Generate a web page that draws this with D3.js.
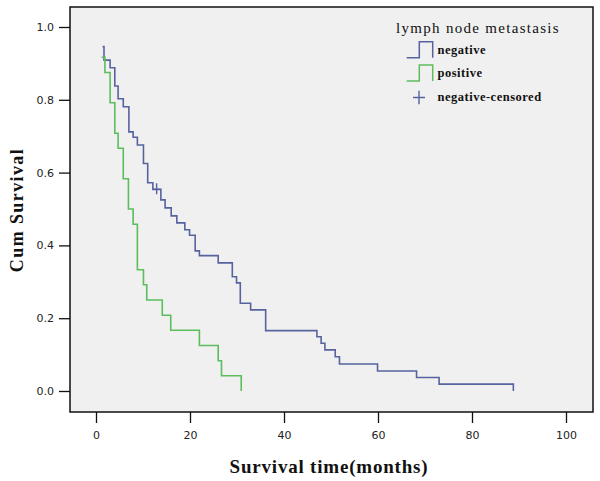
<!DOCTYPE html>
<html><head><meta charset="utf-8">
<script src="https://cdn.jsdelivr.net/npm/d3@7"></script>
<style>body{margin:0;background:#fff}svg{display:block}</style>
</head><body>
<svg id="chart" width="600" height="481"></svg>
<script>
const negTimes = [1.4, 1.7, 3.0, 4.0, 4.7, 5.8, 7.0, 7.9, 8.8, 10.1, 11.0, 12.1, 13.8, 14.7, 16.0, 17.2, 18.9, 19.9, 21.1, 22.0, 26.0, 29.0, 29.9, 30.7, 32.9, 36.1, 47.0, 47.9, 48.7, 50.9, 51.8, 59.9, 68.2, 73.0, 88.8];
const negSurv = [0.946, 0.909, 0.888, 0.838, 0.803, 0.781, 0.712, 0.697, 0.676, 0.625, 0.572, 0.554, 0.525, 0.503, 0.481, 0.462, 0.443, 0.428, 0.385, 0.372, 0.352, 0.314, 0.297, 0.241, 0.223, 0.166, 0.149, 0.131, 0.113, 0.094, 0.074, 0.055, 0.037, 0.019, 0.0];
const posTimes = [1.2, 1.9, 3.0, 4.0, 4.7, 5.8, 6.9, 7.9, 8.8, 10.1, 10.8, 14.1, 15.9, 22.0, 26.0, 26.7, 30.9];
const posSurv = [0.917, 0.875, 0.792, 0.708, 0.667, 0.583, 0.5, 0.458, 0.333, 0.292, 0.25, 0.208, 0.167, 0.125, 0.083, 0.042, 0.0];
const negCensTimes = [12.9];
const negCensSurv = [0.554];
const xTicks = [0, 20, 40, 60, 80, 100];
const yTicks = [0.0, 0.2, 0.4, 0.6, 0.8, 1.0];
const legendTitle = "lymph node metastasis";
const legendLabels = ["negative", "positive", "negative-censored"];

const blue = "#56639f", green = "#5cbd5c";
const svg = d3.select("#chart");
const frame = {l: 70, t: 7, r: 593, b: 412};
const x = d3.scaleLinear().domain([0, 100]).range([96, 566]);
const y = d3.scaleLinear().domain([0, 1]).range([391, 27]);

svg.append("rect").attr("x", frame.l).attr("y", frame.t)
  .attr("width", frame.r - frame.l).attr("height", frame.b - frame.t)
  .attr("fill", "#f0f0f0").attr("stroke", "#111").attr("stroke-width", 1.5);

// y axis
const yAxis = d3.axisLeft(y).tickValues(yTicks).tickFormat(d3.format(".1f")).tickSize(11).tickPadding(5);
const gy = svg.append("g").attr("transform", `translate(${frame.l},0)`).call(yAxis);
gy.select(".domain").remove();
gy.selectAll("line").attr("stroke", "#111").attr("stroke-width", 1.3);
gy.selectAll("text").attr("font-family", "DejaVu Sans").attr("font-size", 11).attr("fill", "#222");

// x axis
const xAxis = d3.axisBottom(x).tickValues(xTicks).tickSize(11).tickPadding(8);
const gx = svg.append("g").attr("transform", `translate(0,${frame.b})`).call(xAxis);
gx.select(".domain").remove();
gx.selectAll("line").attr("stroke", "#111").attr("stroke-width", 1.3);
gx.selectAll("text").attr("font-family", "DejaVu Sans").attr("font-size", 11).attr("fill", "#222");

const line = d3.line().x(d => x(d[0])).y(d => y(d[1])).curve(d3.curveStepAfter);
svg.append("path").datum(negTimes.map((t, i) => [t, negSurv[i]]))
  .attr("d", line).attr("fill", "none").attr("stroke", blue).attr("stroke-width", 1.6);
svg.append("path").datum(posTimes.map((t, i) => [t, posSurv[i]]))
  .attr("d", line).attr("fill", "none").attr("stroke", green).attr("stroke-width", 1.6);

// censor marks
negCensTimes.forEach((t, i) => {
  const cx = x(t), cy = y(negCensSurv[i]);
  svg.append("path").attr("d", `M${cx - 4},${cy}H${cx + 4}M${cx},${cy - 6}V${cy + 5}`)
    .attr("stroke", blue).attr("stroke-width", 1.4).attr("fill", "none");
});

// axis titles
svg.append("text").attr("x", 329).attr("y", 473).attr("text-anchor", "middle")
  .attr("font-family", "Liberation Serif").attr("font-weight", "bold").attr("font-size", 19)
  .attr("letter-spacing", 0.8).attr("fill", "#111").text("Survival time(months)");
svg.append("text").attr("transform", "translate(23,210) rotate(-90)").attr("text-anchor", "middle")
  .attr("font-family", "Liberation Serif").attr("font-weight", "bold").attr("font-size", 18)
  .attr("letter-spacing", 1.4).attr("fill", "#111").text("Cum Survival");

// legend
svg.append("text").attr("x", 478).attr("y", 33).attr("text-anchor", "middle")
  .attr("font-family", "Liberation Serif").attr("font-size", 15).attr("letter-spacing", 1.3)
  .attr("fill", "#111").text(legendTitle);
const legColors = [blue, green];
[0, 1].forEach(i => {
  const by = 57.7 + i * 23.3, ty = 41.7 + i * 23.3;
  svg.append("path").attr("d", `M406.7,${by}H419.3V${ty}H432.7V${by}`)
    .attr("fill", "none").attr("stroke", legColors[i]).attr("stroke-width", 1.5);
});
svg.append("path").attr("d", "M413,97.5H425M419,90.7V104.3")
  .attr("stroke", blue).attr("stroke-width", 1.4).attr("fill", "none");
legendLabels.forEach((lab, i) => {
  svg.append("text").attr("x", 437.5).attr("y", 54 + i * 23.3)
    .attr("font-family", "Liberation Serif").attr("font-weight", "bold").attr("font-size", 12.5)
    .attr("letter-spacing", 0.5).attr("fill", "#111").text(lab);
});
</script>
</body></html>
